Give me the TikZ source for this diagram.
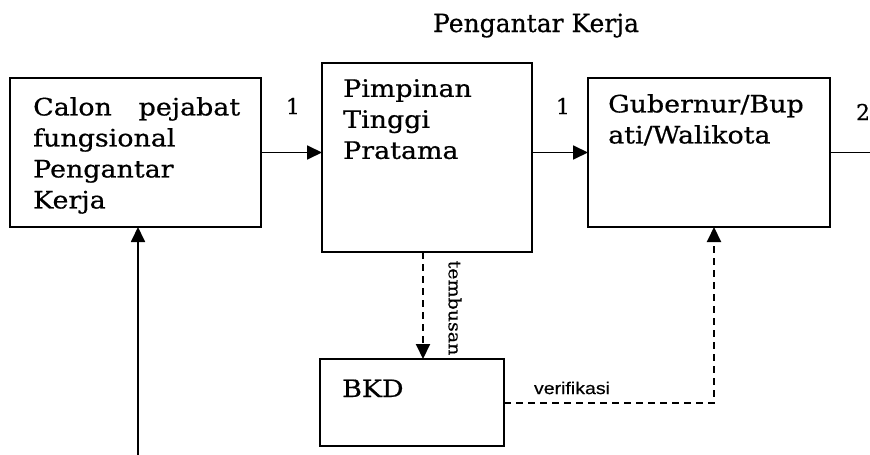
\documentclass[tikz,border=0pt]{standalone}
\usepackage{fontspec}
\setmainfont{DejaVu Serif}[FakeStretch=1.12, FakeBold=0.6]
\newfontfamily\titlefont{DejaVu Serif}[FakeBold=0.6]
\newfontfamily\sansf{Liberation Sans}[FakeStretch=1.15, FakeBold=0.5]
\usetikzlibrary{arrows.meta}
\tikzset{
  box/.style={draw, line width=2.2pt, inner sep=0pt, outer sep=0pt, anchor=north west},
  boxtext/.style={anchor=north west, inner sep=0pt, align=left, font=\fontsize{24}{31}\selectfont},
  arr/.style={line width=1.8pt, -{Triangle[length=15pt,width=14pt]}},
  darr/.style={line width=2pt, dash pattern=on 7pt off 5pt, -{Triangle[length=15pt,width=14pt]}},
  num/.style={inner sep=0pt, font=\titlefont\fontsize{22}{24}\selectfont}
}
\begin{document}
\begin{tikzpicture}[x=1pt,y=-1pt]
\useasboundingbox (0,0) rectangle (870,455);
% title
\node[anchor=base, inner sep=0pt, font=\titlefont\fontsize{25}{30}\selectfont] (title) at (536,32) {Pengantar Kerja};
% boxes
\node[box, minimum width=251pt, minimum height=149pt] (A) at (10,78) {};
\node[box, minimum width=210pt, minimum height=189pt] (B) at (322,63) {};
\node[box, minimum width=242pt, minimum height=149pt] (C) at (588,78) {};
\node[box, minimum width=184pt, minimum height=87pt] (D) at (320,359) {};
% box texts
\node[boxtext, text width=207pt] (At) at (33,97) {Calon\hfill pejabat\\fungsional\\Pengantar\\Kerja};
\node[boxtext] (Bt) at (343,79) {Pimpinan\\Tinggi\\Pratama};
\node[boxtext] (Ct) at (608,94) {Gubernur/Bup\\ati/Walikota};
\node[boxtext, anchor=base west] (Dt) at (342,397) {BKD};
% connectors
\draw[arr] (A.east) -- (A.east -| B.west);
\draw[arr] (C.west -| B.east) -- (C.west);
\coordinate (out) at (C.east -| 870,0);
\draw[line width=1.8pt] (C.east) -- (out);
\coordinate (in) at (138,455);
\draw[arr] (in) -- (in |- A.south);
\draw[darr] ([xshift=-4pt]B.south) -- ([xshift=-4pt]B.south |- D.north);
\draw[darr] (D.east) -| ([xshift=5pt]C.south);
% labels
\node[num] (n1) at (293,106) {1};
\node[num] (n2) at (563,106) {1};
\node[num] (n3) at (863,112) {2};
\node[rotate=-90, inner sep=0pt, font=\fontsize{17}{18}\selectfont] (tb) at (455,308) {tembusan};
\node[inner sep=0pt, font=\sansf\fontsize{17}{20}\selectfont] (vf) at (572,388) {verifikasi};
\end{tikzpicture}
\end{document}
